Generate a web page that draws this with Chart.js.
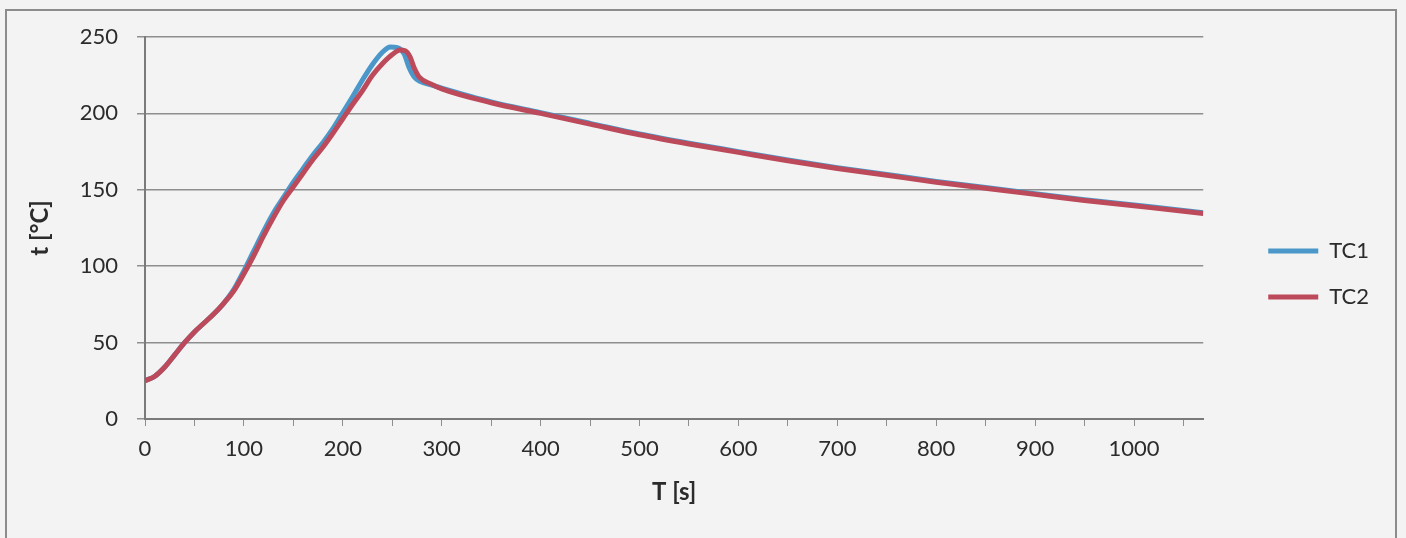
<!DOCTYPE html>
<html>
<head>
<meta charset="utf-8">
<script src="https://cdn.jsdelivr.net/npm/chart.js@4/dist/chart.umd.min.js"></script>
<style>
  html, body { margin: 0; padding: 0; background: #f3f3f3; }
  #wrap { position: absolute; left: 0; top: 0; width: 1406px; height: 538px; }
  #frame { position: absolute; left: 5px; top: 9px; width: 1392px; height: 560px;
           border: 2px solid #8c8c8c; box-sizing: border-box; pointer-events: none; }
</style>
</head>
<body>
<div id="wrap">
  <canvas id="tempChart"></canvas>
  <div id="frame"></div>
</div>
<script>
// Time [s] and temperature [°C]
const timeTC1 = [0, 10, 20, 30, 40, 50, 60, 70, 80, 90, 100, 110, 120, 130, 140, 150, 160, 170, 180, 190, 200, 210, 220, 230, 240, 248, 255, 262, 267, 272, 278, 290, 300, 350, 400, 450, 500, 550, 600, 650, 700, 750, 800, 850, 900, 950, 1000, 1050, 1070];
const tempTC1 = [25, 28, 34, 42, 50, 57, 63, 69, 76, 85, 97, 110, 123, 135, 145, 155, 164, 173, 181, 190, 200.5, 211, 222, 232, 240, 243.5, 243, 239, 230, 224, 221, 218.5, 216.5, 207.5, 200.5, 193.5, 186.5, 180.5, 175, 169.5, 164.5, 160, 155.5, 151.5, 147.5, 143.5, 140, 136.5, 135];

const timeTC2 = [0, 10, 20, 30, 40, 50, 60, 70, 80, 90, 100, 110, 120, 130, 140, 150, 160, 170, 180, 190, 200, 210, 220, 230, 240, 250, 258, 263, 268, 272, 277, 290, 300, 350, 400, 450, 500, 550, 600, 650, 700, 750, 800, 850, 900, 950, 1000, 1050, 1070];
const tempTC2 = [25, 28, 34, 42, 50, 57, 63, 69, 76, 84, 95, 107, 120, 132, 143, 152, 161, 170, 178, 187, 196.5, 206, 215, 225, 232.5, 238.5, 241.5, 241, 237, 230, 224, 219, 216, 207, 200, 193, 186, 180, 174.5, 169, 164, 159.5, 155, 151, 147, 143, 139.5, 136, 134.5];

const yTicks = [0, 50, 100, 150, 200, 250];

const textColor = '#2b2b2b';
const gridColor = '#8e8e8e';
const fontFamily = 'Lato, "Liberation Sans", sans-serif';

function toPoints(times, temps) {
    return times.map((t, i) => ({ x: t, y: temps[i] }));
}

document.addEventListener('DOMContentLoaded', function() {
    const canvas = document.getElementById('tempChart');

    new Chart(canvas, {
        type: 'line',
        data: {
            datasets: [{
                label: 'TC1',
                data: toPoints(timeTC1, tempTC1),
                borderColor: '#4b97c9',
                backgroundColor: '#4b97c9',
                borderWidth: 5,
                pointRadius: 0,
                cubicInterpolationMode: 'monotone',
                order: 2
            }, {
                label: 'TC2',
                data: toPoints(timeTC2, tempTC2),
                borderColor: '#bc4a5a',
                backgroundColor: '#bc4a5a',
                borderWidth: 5,
                pointRadius: 0,
                cubicInterpolationMode: 'monotone',
                order: 1
            }]
        },
        options: {
            responsive: true,
            maintainAspectRatio: false,
            animation: false,
            layout: {
                padding: { top: 37, right: 27, bottom: 27, left: 24 }
            },
            plugins: {
                tooltip: { enabled: false },
                legend: {
                    display: true,
                    position: 'right',
                    labels: {
                        usePointStyle: true,
                        pointStyle: 'line',
                        pointStyleWidth: 50,
                        padding: 24,
                        color: textColor,
                        font: { family: fontFamily, size: 22 },
                        sort: (a, b) => a.datasetIndex - b.datasetIndex
                    }
                }
            },
            scales: {
                x: {
                    type: 'linear',
                    min: 0,
                    max: 1070,
                    border: { display: true, color: '#7a7a7a', width: 2 },
                    grid: {
                        drawOnChartArea: false,
                        drawTicks: true,
                        tickLength: 7,
                        color: gridColor
                    },
                    ticks: {
                        stepSize: 50,
                        includeBounds: false,
                        autoSkip: false,
                        maxRotation: 0,
                        padding: 10,
                        color: textColor,
                        font: { family: fontFamily, size: 22 },
                        callback: v => (v % 100 === 0 ? v : '')
                    },
                    title: {
                        display: true,
                        text: 'T [s]',
                        color: textColor,
                        font: { family: fontFamily, size: 24, weight: 'bold' },
                        padding: { top: 6, bottom: 4 }
                    },
                    afterFit: scale => { scale.height = 92; }
                },
                y: {
                    min: 0,
                    max: 250,
                    border: { display: true, color: '#7a7a7a', width: 2 },
                    grid: {
                        color: gridColor,
                        lineWidth: 1.5,
                        tickLength: 8
                    },
                    afterBuildTicks: scale => {
                        scale.ticks = yTicks.map(v => ({ value: v }));
                    },
                    ticks: {
                        padding: 19,
                        color: textColor,
                        font: { family: fontFamily, size: 22 }
                    },
                    title: {
                        display: true,
                        text: 't [°C]',
                        color: textColor,
                        font: { family: fontFamily, size: 24, weight: 'bold' },
                        padding: { top: 2, bottom: 10 }
                    },
                    afterFit: scale => { scale.width = 121; }
                },
                // empty right-hand axis, keeps the legend away from the plot
                gap: {
                    type: 'linear',
                    position: 'right',
                    display: true,
                    border: { display: false },
                    grid: { display: false, drawTicks: false },
                    ticks: { display: false },
                    afterFit: scale => { scale.width = 41; }
                }
            }
        }
    });
});
</script>
</body>
</html>
